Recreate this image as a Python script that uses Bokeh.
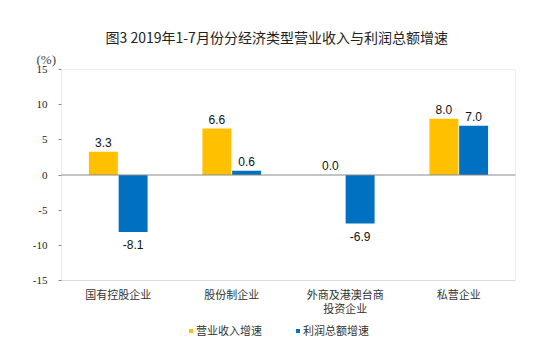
from bokeh.plotting import figure
from bokeh.models import (ColumnDataSource, FactorRange, Span, Legend, LegendItem, FixedTicker,
                          Title, BoxAnnotation)
from bokeh.transform import dodge
from bokeh.core.properties import value
from bokeh.embed import file_html
from bokeh.resources import INLINE

categories = ["国有控股企业", "股份制企业", "外商及港澳台商\n投资企业", "私营企业"]
revenue = [3.3, 6.6, 0.0, 8.0]
profit = [-8.1, 0.6, -6.9, 7.0]
y_ticks = [-15, -10, -5, 0, 5, 10, 15]
y_min, y_max = -15, 15
series_names = ["营业收入增速", "利润总额增速"]
title_text = "图3 2019年1-7月份分经济类型营业收入与利润总额增速"
unit_text = "(%)"

YELLOW = "#FFC000"
BLUE = "#0070C0"
GRAY = "#898989"
CJK = "Noto Sans CJK SC"
OFF = 0.131

# frame extends below the axis box to hold category labels and legend
BOX_H = 211
FRAME_H = 276
y_lo = y_max - FRAME_H * (y_max - y_min) / BOX_H

p = figure(frame_width=454, frame_height=FRAME_H, x_range=FactorRange(*categories),
           y_range=(y_lo, y_max), output_backend="svg", toolbar_location=None,
           min_border_left=61, min_border_right=27, min_border_top=69, min_border_bottom=0)

p.add_layout(Title(text=unit_text, align="left", offset=-25, text_font="Liberation Serif",
                   text_font_size="13px", text_font_style="normal", text_color="#444444",
                   standoff=6), "above")

p.title.text = title_text
p.title.align = "left"
p.title.offset = 44
p.title.text_font = CJK
p.title.text_font_size = "14px"
p.title.text_font_style = "normal"
p.title.text_color = "#222222"
p.title.standoff = 0

p.grid.visible = False
p.outline_line_color = None
p.background_fill_color = "white"
p.add_layout(BoxAnnotation(bottom=y_min, top=y_max, fill_alpha=0, line_color=GRAY,
                           line_width=1, level="underlay"))

src = ColumnDataSource(dict(cat=categories, rev=revenue, pro=profit))
w = 0.255
r1 = p.vbar(x=dodge("cat", -OFF, range=p.x_range), top="rev", width=w, source=src,
            fill_color=YELLOW, line_color=None)
r2 = p.vbar(x=dodge("cat", OFF, range=p.x_range), top="pro", width=w, source=src,
            fill_color=BLUE, line_color=None)

p.add_layout(Span(location=0, dimension="width", line_color=GRAY, line_width=1))


def split(vals, positive):
    keep = [(c, v) for c, v in zip(categories, vals) if (v >= 0) == positive]
    return ColumnDataSource(dict(cat=[c for c, _ in keep], v=[v for _, v in keep],
                                 t=[f"{v:.1f}" for _, v in keep]))


lbl_kw = dict(text="t", text_align="center", text_font=value("Liberation Sans"),
              text_font_size="12px", text_color="#111111")
for vals, off in ((revenue, -OFF), (profit, OFF)):
    p.text(x=dodge("cat", off, range=p.x_range), y="v", source=split(vals, True),
           text_baseline="bottom", y_offset=-5, **lbl_kw)
    p.text(x=dodge("cat", off, range=p.x_range), y="v", source=split(vals, False),
           text_baseline="top", y_offset=8, **lbl_kw)

# category labels beneath the box
cat_src = ColumnDataSource(dict(cat=categories, y=[y_min] * len(categories), t=categories))
p.text(x="cat", y="y", text="t", source=cat_src, text_align="center", text_baseline="top",
       y_offset=5, text_font=value(CJK), text_font_size="11px", text_color="#333333",
       text_line_height=0.9)

# y axis
p.yaxis.ticker = FixedTicker(ticks=y_ticks)
p.yaxis.major_label_overrides = {t: str(t) for t in y_ticks}
p.yaxis.axis_line_color = None
p.yaxis.major_tick_line_color = GRAY
p.yaxis.major_tick_in = 0
p.yaxis.major_tick_out = 3
p.yaxis.minor_tick_line_color = None
p.yaxis.major_label_text_font = "Liberation Serif"
p.yaxis.major_label_text_font_size = "11px"
p.yaxis.major_label_text_color = "#222222"
p.yaxis.major_label_standoff = 11

p.xaxis.visible = False

legend = Legend(items=[LegendItem(label=series_names[0], renderers=[r1]),
                       LegendItem(label=series_names[1], renderers=[r2])],
                orientation="horizontal", location=(127, 7),
                label_text_font=CJK, label_text_font_size="11px", label_text_color="#333333",
                glyph_width=5, glyph_height=5, label_standoff=3, spacing=33,
                padding=0, margin=0, border_line_color=None, background_fill_alpha=0)
p.add_layout(legend, "center")

open("out.html", "w").write(file_html(p, INLINE))
